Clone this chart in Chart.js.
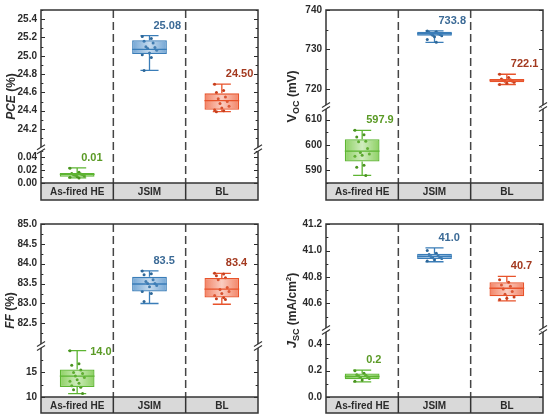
<!DOCTYPE html>
<html><head><meta charset="utf-8">
<script src="https://cdn.jsdelivr.net/npm/chart.js@4.4.1/dist/chart.umd.min.js"></script>
<style>
html,body{margin:0;padding:0;background:#fff;width:554px;height:419px;overflow:hidden}
.p{position:absolute}
</style></head><body>
<div class="p" style="left:0;top:0"><canvas id="c1" width="277" height="210"></canvas></div>
<div class="p" style="left:277px;top:0"><canvas id="c2" width="277" height="210"></canvas></div>
<div class="p" style="left:0;top:210px"><canvas id="c3" width="277" height="209"></canvas></div>
<div class="p" style="left:277px;top:210px"><canvas id="c4" width="277" height="209"></canvas></div>
<script>
// ---------------- DATA ----------------
const categories = ['As-fired HE', 'JSIM', 'BL'];

// box statistics per category: [lower whisker, Q1, median, Q3, upper whisker]
const pceBox = [[0.008, 0.0097, 0.0134, 0.0158, 0.0236], [24.84, 25.02, 25.07, 25.17, 25.22], [24.39, 24.41, 24.51, 24.59, 24.69]];
const pcePoints = [
  [0.023, 0.017, 0.015, 0.014, 0.013, 0.013, 0.012, 0.011, 0.010, 0.009, 0.008],
  [25.21, 25.19, 25.16, 25.14, 25.10, 25.09, 25.08, 25.06, 25.03, 25.01, 24.98, 24.84],
  [24.69, 24.62, 24.60, 24.55, 24.53, 24.50, 24.48, 24.45, 24.43, 24.41, 24.40, 24.39]
];
const pceLabels = ['0.01', '25.08', '24.50'];
const pceTicksTop = [24.2, 24.4, 24.6, 24.8, 25.0, 25.2, 25.4];
const pceTicksBot = [0, 0.02, 0.04];
const pceRangeTop = [23.98, 25.5];
const pceRangeBot = [0, 0.053];

const vocBox = [[588.0, 593.5, 597.6, 602.3, 605.8], [731.8, 733.5, 734.0, 734.5, 734.7], [721.1, 721.7, 722.2, 722.5, 723.7]];
const vocPoints = [
  [605.8, 604.0, 603.2, 601.5, 601.3, 598.6, 597.0, 596.4, 596.0, 595.6, 592.0, 591.2, 588.0],
  [734.7, 734.5, 734.3, 734.1, 734.0, 733.8, 733.6, 733.5, 733.2, 732.5, 731.8],
  [723.7, 722.9, 722.5, 722.3, 722.2, 722.0, 721.9, 721.7, 721.4, 721.1]
];
const vocLabels = ['597.9', '733.8', '722.1'];
const vocTicksTop = [720, 730, 740];
const vocTicksBot = [590, 600, 610];
const vocRangeTop = [715.4, 740];
const vocRangeBot = [585, 615];

const ffBox = [[10.7, 12.05, 14.25, 15.6, 19.45], [83.00, 83.30, 83.49, 83.67, 83.82], [82.98, 83.15, 83.36, 83.64, 83.76]];
const ffPoints = [
  [19.45, 16.8, 16.5, 15.5, 15.0, 14.8, 14.3, 14.0, 13.5, 13.2, 12.8, 12.3, 12.0, 11.5, 10.7],
  [83.82, 83.75, 83.72, 83.60, 83.55, 83.50, 83.50, 83.45, 83.42, 83.30, 83.25, 83.05],
  [83.76, 83.74, 83.70, 83.65, 83.60, 83.40, 83.35, 83.30, 83.25, 83.20, 83.15, 83.12, 83.10]
];
const ffLabels = ['14.0', '83.5', '83.4'];
const ffTicksTop = [82.5, 83.0, 83.5, 84.0, 84.5, 85.0];
const ffTicksBot = [10, 15];
const ffRangeTop = [81.93, 85];
const ffRangeBot = [10, 20.4];

const jscBox = [[0.115, 0.135, 0.156, 0.179, 0.204], [40.915, 40.935, 40.955, 40.975, 41.02], [40.62, 40.655, 40.715, 40.76, 40.805]];
const jscPoints = [
  [0.20, 0.18, 0.17, 0.165, 0.16, 0.155, 0.15, 0.14, 0.13, 0.12],
  [41.00, 40.98, 40.97, 40.96, 40.955, 40.95, 40.945, 40.94, 40.93, 40.92],
  [40.78, 40.76, 40.74, 40.73, 40.71, 40.69, 40.67, 40.65, 40.64, 40.63]
];
const jscLabels = ['0.2', '41.0', '40.7'];
const jscTicksTop = [40.6, 40.8, 41.0, 41.2];
const jscTicksBot = [0.0, 0.2, 0.4];
const jscRangeTop = [40.4, 41.2];
const jscRangeBot = [0, 0.51];

// ---------------- STYLE ----------------
const FONT = '"Liberation Sans", Arial, sans-serif';
Chart.defaults.font.family = FONT;
const lineColors = ['#5db532', '#3a7db8', '#e8532b'];
const ptColors = ['#4a9320', '#2d6798', '#c63f1d'];
const labelColors = ['#5a9a25', '#3b6a96', '#a3391f'];
const fillRGB = [[120, 200, 70], [90, 150, 205], [240, 110, 75]];
const BOX_FRAC = 0.48, CAP_FRAC = 0.25;
const INK = '#2b2b2b';

function jit(j) { return (((j * 5) % 9) - 4) * 0.025; }

function makePanel(id, d, s) {
  const axisOf = d.box.map(b => (b[2] <= d.rangeBot[1] ? 'yB' : 'yT'));
  const boxData = ax => d.box.map((b, i) => (axisOf[i] === ax ? [b[1], b[3]] : null));
  const ptsData = ax => {
    const out = [];
    d.points.forEach((arr, i) => {
      if (axisOf[i] !== ax) return;
      arr.forEach((v, j) => out.push({ x: i + jit(j), y: v }));
    });
    return out;
  };
  const boxFill = ctx => {
    const chart = ctx.chart;
    if (!chart.chartArea) return 'rgba(0,0,0,0)';
    const x = chart.scales.x, i = ctx.dataIndex;
    const cx = x.getPixelForValue(i);
    const hw = (x.getPixelForValue(1) - x.getPixelForValue(0)) * BOX_FRAC / 2;
    const c = fillRGB[i];
    const g = chart.ctx.createLinearGradient(cx - hw, 0, cx + hw, 0);
    g.addColorStop(0, `rgba(${c[0]},${c[1]},${c[2]},0.85)`);
    g.addColorStop(0.5, `rgba(${c[0]},${c[1]},${c[2]},0.35)`);
    g.addColorStop(1, `rgba(${c[0]},${c[1]},${c[2]},0.85)`);
    return g;
  };
  const barDs = ax => ({
    type: 'bar', data: boxData(ax), xAxisID: 'x', yAxisID: ax, grouped: false,
    categoryPercentage: 1, barPercentage: BOX_FRAC,
    backgroundColor: boxFill, borderColor: lineColors, borderWidth: 1.3, borderSkipped: false
  });
  const ptDs = ax => ({
    type: 'scatter', data: ptsData(ax), xAxisID: 'xj', yAxisID: ax,
    pointRadius: 1.5, pointBorderWidth: 0,
    pointBackgroundColor: ctx => ptColors[Math.round(ctx.raw ? ctx.raw.x : 0)]
  });
  const tickFont = { family: FONT, size: 10, weight: 'bold' };
  const yScale = (range, ticks, dec, weight) => ({
    type: 'linear', position: 'left', stack: 'y', stackWeight: weight,
    min: range[0], max: range[1],
    grid: { display: false, drawTicks: false }, border: { display: false },
    ticks: { font: tickFont, color: INK, padding: 4, autoSkip: false, callback: v => Number(v).toFixed(dec) },
    afterBuildTicks: sc => { sc.ticks = ticks.map(v => ({ value: v })); },
    afterFit: sc => { sc.width = s.axisW; }
  });

  const plugin = {
    id: 'boxplot_' + id,
    beforeDraw(chart) {
      const { ctx, chartArea: a } = chart; const x = chart.scales.x;
      ctx.save(); ctx.fillStyle = '#d9d9d9';
      ctx.fillRect(a.left, a.bottom, a.right - a.left, x.bottom - a.bottom);
      ctx.restore();
    },
    beforeDatasetsDraw(chart) {
      const { ctx, chartArea: a } = chart; const x = chart.scales.x;
      const step = x.getPixelForValue(1) - x.getPixelForValue(0);
      ctx.save();
      ctx.strokeStyle = '#454545'; ctx.lineWidth = 1.5; ctx.setLineDash([8, 4]);
      for (let i = 0; i < categories.length - 1; i++) {
        const bx = x.getPixelForValue(i) + step / 2;
        ctx.beginPath(); ctx.moveTo(bx, a.top); ctx.lineTo(bx, a.bottom); ctx.stroke();
      }
      ctx.setLineDash([]);
      const capHalf = step * CAP_FRAC / 2;
      d.box.forEach((b, i) => {
        const y = chart.scales[axisOf[i]]; const cx = x.getPixelForValue(i);
        ctx.strokeStyle = lineColors[i]; ctx.lineWidth = 1.3;
        ctx.beginPath();
        ctx.moveTo(cx, y.getPixelForValue(b[0])); ctx.lineTo(cx, y.getPixelForValue(b[1]));
        ctx.moveTo(cx, y.getPixelForValue(b[3])); ctx.lineTo(cx, y.getPixelForValue(b[4]));
        ctx.moveTo(cx - capHalf, y.getPixelForValue(b[0])); ctx.lineTo(cx + capHalf, y.getPixelForValue(b[0]));
        ctx.moveTo(cx - capHalf, y.getPixelForValue(b[4])); ctx.lineTo(cx + capHalf, y.getPixelForValue(b[4]));
        ctx.stroke();
      });
      ctx.restore();
    },
    afterDatasetDraw(chart, args) {
      if (chart.data.datasets[args.index].type !== 'bar') return;
      const ax = chart.data.datasets[args.index].yAxisID;
      const { ctx } = chart; const x = chart.scales.x;
      const hw = (x.getPixelForValue(1) - x.getPixelForValue(0)) * BOX_FRAC / 2;
      ctx.save();
      d.box.forEach((b, i) => {
        if (axisOf[i] !== ax) return;
        const y = chart.scales[ax]; const cx = x.getPixelForValue(i); const my = y.getPixelForValue(b[2]);
        ctx.strokeStyle = lineColors[i]; ctx.lineWidth = 1.3;
        ctx.beginPath(); ctx.moveTo(cx - hw, my); ctx.lineTo(cx + hw, my); ctx.stroke();
      });
      ctx.restore();
    },
    afterDraw(chart) {
      const { ctx, chartArea: a } = chart; const x = chart.scales.x;
      const yT = chart.scales.yT, yB = chart.scales.yB;
      const step = x.getPixelForValue(1) - x.getPixelForValue(0);
      ctx.save();
      // inward ticks (major + minor) on both vertical axes
      ctx.strokeStyle = INK; ctx.lineWidth = 1.2;
      [yT, yB].forEach(sc => {
        const maj = sc.ticks.map(t => t.value);
        const mins = [];
        if (maj.length > 1) {
          const h = (maj[1] - maj[0]) / 2;
          for (let k = 0; k < maj.length; k++) { mins.push(maj[k] - h); mins.push(maj[k] + h); }
        }
        const draw = (v, L) => {
          if (v < sc.min - 1e-9 || v > sc.max + 1e-9) return;
          const py = Math.round(sc.getPixelForValue(v)) + 0.5;
          ctx.beginPath();
          ctx.moveTo(a.left, py); ctx.lineTo(a.left + L, py);
          ctx.moveTo(a.right, py); ctx.lineTo(a.right - L, py);
          ctx.stroke();
        };
        maj.forEach(v => draw(v, 4));
        mins.forEach(v => { if (!maj.some(m => Math.abs(m - v) < 1e-9)) draw(v, 2.2); });
      });
      // frame
      ctx.strokeStyle = '#333'; ctx.lineWidth = 1.5;
      ctx.strokeRect(a.left, a.top, a.right - a.left, x.bottom - a.top);
      ctx.beginPath(); ctx.moveTo(a.left, a.bottom); ctx.lineTo(a.right, a.bottom); ctx.stroke();
      for (let i = 0; i < categories.length - 1; i++) {
        const bx = x.getPixelForValue(i) + step / 2;
        ctx.beginPath(); ctx.moveTo(bx, a.bottom); ctx.lineTo(bx, x.bottom); ctx.stroke();
      }
      // axis break marks
      const by = yT.bottom;
      [a.left, a.right].forEach(bx => {
        ctx.fillStyle = '#fff'; ctx.fillRect(bx - 1.5, by - 2, 3, 4);
        ctx.strokeStyle = '#333'; ctx.lineWidth = 1.1;
        [-2, 2].forEach(off => {
          ctx.beginPath(); ctx.moveTo(bx - 4, by + off + 2.5); ctx.lineTo(bx + 4, by + off - 2.5); ctx.stroke();
        });
      });
      // value labels
      const capHalf = step * CAP_FRAC / 2;
      ctx.font = `bold 11px ${FONT}`; ctx.textAlign = 'left'; ctx.textBaseline = 'middle';
      d.labels.forEach((t, i) => {
        const y = chart.scales[axisOf[i]]; const cx = x.getPixelForValue(i);
        const capY = y.getPixelForValue(d.box[i][4]);
        let lx = cx + 4, ly = capY - 10;
        if (ly - 6 < y.top) { lx = cx + capHalf + 4; ly = capY + 1; }
        ctx.fillStyle = labelColors[i]; ctx.fillText(t, lx, ly);
      });
      // y-axis title with rich text
      const cy = (a.top + a.bottom) / 2;
      ctx.translate(s.titleX, cy); ctx.rotate(-Math.PI / 2);
      ctx.fillStyle = INK; ctx.textBaseline = 'alphabetic'; ctx.textAlign = 'left';
      let total = 0;
      s.title.forEach(seg => { ctx.font = `${seg.f} ${FONT}`; total += ctx.measureText(seg.t).width; });
      let tx = -total / 2;
      s.title.forEach(seg => {
        ctx.font = `${seg.f} ${FONT}`;
        ctx.fillText(seg.t, tx, 4 + (seg.dy || 0));
        tx += ctx.measureText(seg.t).width;
      });
      ctx.restore();
    }
  };

  return new Chart(document.getElementById(id), {
    type: 'bar',
    data: { labels: categories, datasets: [barDs('yB'), barDs('yT'), ptDs('yB'), ptDs('yT')] },
    options: {
      responsive: false, animation: false,
      layout: { padding: { top: s.padTop, bottom: s.padBottom, left: 0, right: s.padRight } },
      plugins: { legend: { display: false }, tooltip: { enabled: false } },
      scales: {
        x: {
          type: 'category', position: 'bottom', offset: true,
          grid: { display: false, drawTicks: false }, border: { display: false },
          ticks: { font: tickFont, color: INK, padding: 3, maxRotation: 0, autoSkip: false },
          afterFit: sc => { sc.height = s.bandH; }
        },
        xj: { type: 'linear', display: false, offset: false, grid: { offset: false }, min: -0.5, max: 2.5 },
        yB: yScale(d.rangeBot, d.ticksBot, d.decBot, s.wBot),
        yT: yScale(d.rangeTop, d.ticksTop, d.decTop, s.wTop)
      }
    },
    plugins: [plugin]
  });
}

makePanel('c1',
  { box: pceBox, points: pcePoints, labels: pceLabels, ticksTop: pceTicksTop, ticksBot: pceTicksBot, rangeTop: pceRangeTop, rangeBot: pceRangeBot, decTop: 1, decBot: 2 },
  { padTop: 9, bandH: 17, padBottom: 10, padRight: 19, axisW: 41, wTop: 140, wBot: 34, titleX: 11,
    title: [{ t: 'PCE', f: 'italic bold 12px' }, { t: ' (%)', f: 'bold 12px' }] });
makePanel('c2',
  { box: vocBox, points: vocPoints, labels: vocLabels, ticksTop: vocTicksTop, ticksBot: vocTicksBot, rangeTop: vocRangeTop, rangeBot: vocRangeBot, decTop: 0, decBot: 0 },
  { padTop: 10, bandH: 17, padBottom: 10, padRight: 11, axisW: 49, wTop: 97, wBot: 76, titleX: 15,
    title: [{ t: 'V', f: 'bold 13px' }, { t: 'OC', f: 'bold 9px', dy: 3 }, { t: ' (mV)', f: 'bold 12px' }] });
makePanel('c3',
  { box: ffBox, points: ffPoints, labels: ffLabels, ticksTop: ffTicksTop, ticksBot: ffTicksBot, rangeTop: ffRangeTop, rangeBot: ffRangeBot, decTop: 1, decBot: 0 },
  { padTop: 14, bandH: 16, padBottom: 6, padRight: 19, axisW: 41, wTop: 122, wBot: 51, titleX: 10,
    title: [{ t: 'FF', f: 'italic bold 12px' }, { t: ' (%)', f: 'bold 12px' }] });
makePanel('c4',
  { box: jscBox, points: jscPoints, labels: jscLabels, ticksTop: jscTicksTop, ticksBot: jscTicksBot, rangeTop: jscRangeTop, rangeBot: jscRangeBot, decTop: 1, decBot: 1 },
  { padTop: 14, bandH: 16, padBottom: 6, padRight: 11, axisW: 49, wTop: 106, wBot: 67, titleX: 15,
    title: [{ t: 'J', f: 'italic bold 13px' }, { t: 'SC', f: 'bold 9px', dy: 3 }, { t: ' (mA/cm', f: 'bold 12px' }, { t: '2', f: 'bold 8px', dy: -5 }, { t: ')', f: 'bold 12px' }] });
</script>
</body></html>
